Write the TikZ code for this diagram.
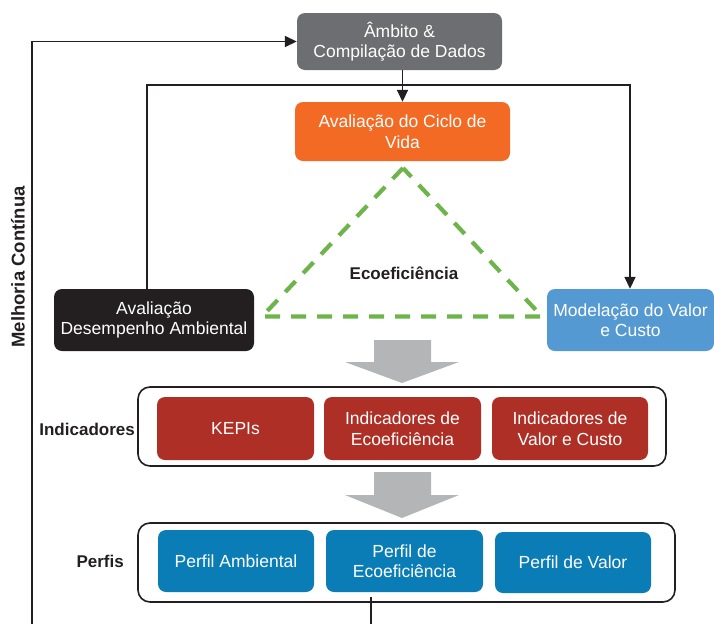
\documentclass[tikz,border=0pt]{standalone}
\usepackage{fontspec}
\setmainfont{Liberation Sans}
\usetikzlibrary{arrows.meta}
\definecolor{cgray}{HTML}{6D6E71}
\definecolor{corange}{HTML}{F26A24}
\definecolor{cblack}{HTML}{231F20}
\definecolor{cmodel}{HTML}{5599D3}
\definecolor{cred}{HTML}{AE2F26}
\definecolor{cperfil}{HTML}{0A7DB7}
\definecolor{cgreen}{HTML}{6DB54B}
\definecolor{carrow}{HTML}{B4B5B7}
\begin{document}
\begin{tikzpicture}[x=1pt,y=-1pt,
  box/.style={rounded corners=8pt, inner sep=0pt, align=center, text=white,
    font=\fontsize{17.5}{20.5}\selectfont},
  frame/.style={draw=cblack, line width=1.6pt, rounded corners=12pt, inner sep=0pt},
  conn/.style={draw=cblack, line width=1.7pt},
  arr/.style={conn, -{Triangle[length=12pt,width=11pt]}},
  lbl/.style={font=\fontsize{17}{20}\selectfont\bfseries, text=cblack, inner sep=0pt},
  blockarrow/.style={fill=carrow, draw=none},
  eco/.style={draw=cgreen, line width=4.2pt, dash pattern=on 15pt off 11pt}]
\useasboundingbox (0,0) rectangle (714,624);
% frames
\node[frame, minimum width=528pt, minimum height=79pt] (fInd) at (402,426.5) {};
\node[frame, minimum width=537pt, minimum height=79pt] (fPer) at (406.5,562.5) {};
% main boxes
\node[box, fill=cgray, minimum width=205pt, minimum height=57pt] (amb) at (399.5,41.5) {Âmbito \&\\Compilação de Dados};
\node[box, fill=corange, minimum width=215pt, minimum height=59pt] (acv) at (402.5,131.5) {Avaliação do Ciclo de\\Vida};
\node[box, fill=cblack, minimum width=200pt, minimum height=62pt] (ada) at (154,320) {Avaliação\\Desempenho Ambiental};
\node[box, fill=cmodel, minimum width=167pt, minimum height=62pt] (mvc) at (630.5,320) {Modelação do Valor\\e Custo};
% indicators
\node[box, fill=cred, minimum width=157pt, minimum height=63pt] (kepi) at (235.5,428.5) {KEPIs};
\node[box, fill=cred, minimum width=157pt, minimum height=63pt] (ieco) at (402.5,428.5) {Indicadores de\\Ecoeficiência};
\node[box, fill=cred, minimum width=156pt, minimum height=63pt] (ival) at (570,428.5) {Indicadores de\\Valor e Custo};
% profiles
\node[box, fill=cperfil, minimum width=156pt, minimum height=62pt] (pamb) at (236,561) {Perfil Ambiental};
\node[box, fill=cperfil, minimum width=157pt, minimum height=62pt] (peco) at (404.5,561) {Perfil de\\Ecoeficiência};
\node[box, fill=cperfil, minimum width=156pt, minimum height=61pt] (pval) at (573,562.5) {Perfil de Valor};
% labels
\node[lbl, anchor=east] (lInd) at (135,429) {Indicadores};
\node[lbl, anchor=east] (lPer) at (124,561) {Perfis};
\node[lbl] (lEco) at (404,273) {Ecoeficiência};
\node[lbl, rotate=90, font=\fontsize{18.5}{20}\selectfont\bfseries] (lMel) at (18,267) {Melhoria Contínua};
% green triangle
\coordinate (tA) at (403,168);
\coordinate (tL) at (262,316.5);
\coordinate (tR) at (542,316.5);
\draw[eco] (tA) -- (tL) -- (tR) -- cycle;
% block arrows
\fill[blockarrow] (374,340) -- (431,340) -- (431,362) -- (459,362) -- (402,383) -- (345,362) -- (374,362) -- cycle;
\fill[blockarrow] (374,472) -- (431,472) -- (431,495) -- (459,495) -- (402,518) -- (345,495) -- (374,495) -- cycle;
% connectors
\draw[arr] (acv.north |- amb.south) -- (acv.north);
\coordinate (tl) at (147,85);
\coordinate (tr) at (630,85);
\draw[arr] (ada.north -| tl) -- (tl) -- (tr) -- (mvc.north -| tr);
\coordinate (loopL) at (32,624);
\draw[arr] (loopL) |- (amb.west);
\coordinate (pTop) at (371,597);
\coordinate (pBot) at (371,624);
\draw[conn] (pTop) -- (pBot);
\end{tikzpicture}
\end{document}
